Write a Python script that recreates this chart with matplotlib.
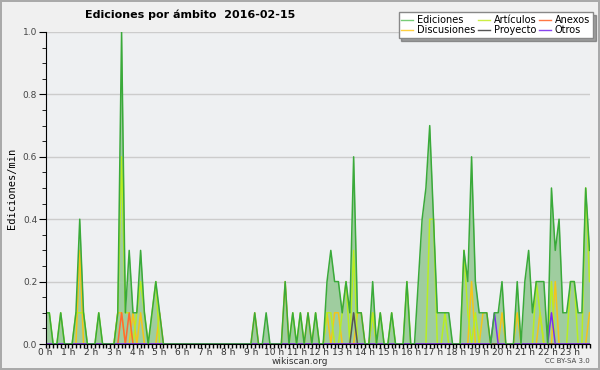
import numpy as np
import matplotlib
matplotlib.use("Agg")
import matplotlib.pyplot as plt
from matplotlib.ticker import MultipleLocator, FixedLocator

# edits per minute, one value every 10 minutes (144 per day), two hours per row
ediciones = [
    0.1, 0.1, 0, 0, 0.1, 0,   0, 0, 0.1, 0.4, 0.1, 0,
    0, 0, 0.1, 0, 0, 0,       0, 0.1, 1.0, 0.1, 0.3, 0.1,
    0.1, 0.3, 0.1, 0, 0.1, 0.2, 0.1, 0, 0, 0, 0, 0,
    0, 0, 0, 0, 0, 0,         0, 0, 0, 0, 0, 0,
    0, 0, 0, 0, 0, 0,         0, 0.1, 0, 0, 0.1, 0,
    0, 0, 0, 0.2, 0, 0.1,     0, 0.1, 0, 0.1, 0, 0.1,
    0, 0, 0.2, 0.3, 0.2, 0.2, 0.1, 0.2, 0.1, 0.6, 0.1, 0.1,
    0, 0, 0.2, 0, 0.1, 0,     0, 0.1, 0, 0, 0, 0.2,
    0, 0, 0.2, 0.4, 0.5, 0.7, 0.4, 0.1, 0.1, 0.1, 0.1, 0,
    0, 0, 0.3, 0.2, 0.6, 0.2, 0.1, 0.1, 0.1, 0, 0.1, 0.1,
    0.2, 0, 0, 0, 0.2, 0,     0.2, 0.3, 0.1, 0.2, 0.2, 0.2,
    0, 0.5, 0.3, 0.4, 0.1, 0.1, 0.2, 0.2, 0.1, 0.1, 0.5, 0.3,
]
articulos = [
    0.1, 0.1, 0, 0, 0.1, 0,   0, 0, 0.1, 0.1, 0.1, 0,
    0, 0, 0.1, 0, 0, 0,       0, 0.1, 0.6, 0.1, 0.1, 0,
    0.1, 0.2, 0.1, 0, 0.1, 0.2, 0, 0, 0, 0, 0, 0,
    0, 0, 0, 0, 0, 0,         0, 0, 0, 0, 0, 0,
    0, 0, 0, 0, 0, 0,         0, 0, 0, 0, 0, 0,
    0, 0, 0, 0, 0, 0.1,       0, 0.1, 0, 0, 0, 0.1,
    0, 0, 0.1, 0.1, 0, 0,     0.1, 0.2, 0, 0.3, 0, 0,
    0, 0, 0.1, 0, 0.1, 0,     0, 0.1, 0, 0, 0, 0.2,
    0, 0, 0, 0, 0, 0.4,       0.4, 0, 0, 0.1, 0, 0,
    0, 0, 0.3, 0.1, 0, 0.1,   0, 0, 0, 0, 0, 0,
    0, 0, 0, 0, 0, 0,         0, 0, 0, 0.2, 0.1, 0,
    0, 0.2, 0, 0, 0, 0,       0.2, 0.2, 0, 0, 0.5, 0.2,
]
discusiones = [
    0, 0, 0, 0, 0, 0,         0, 0, 0, 0.3, 0, 0,
    0, 0, 0, 0, 0, 0,         0, 0.1, 0.1, 0, 0, 0.1,
    0, 0.1, 0, 0, 0, 0,       0.1, 0, 0, 0, 0, 0,
    0, 0, 0, 0, 0, 0,         0, 0, 0, 0, 0, 0,
    0, 0, 0, 0, 0, 0,         0, 0.1, 0, 0, 0, 0,
    0, 0, 0, 0.2, 0, 0,       0, 0, 0, 0.1, 0, 0,
    0, 0, 0.1, 0, 0.1, 0.1,   0, 0, 0, 0, 0.1, 0.1,
    0, 0, 0.1, 0, 0, 0,       0, 0, 0, 0, 0, 0,
    0, 0, 0, 0, 0, 0,         0, 0, 0, 0, 0, 0,
    0, 0, 0, 0, 0.2, 0,       0, 0.1, 0.1, 0, 0, 0,
    0.1, 0, 0, 0, 0.1, 0,     0, 0, 0, 0, 0.1, 0,
    0, 0, 0.2, 0, 0, 0,       0, 0, 0, 0, 0, 0.1,
]
# sparse categories: {10-minute slot: value}
anexos = {20: 0.1, 22: 0.1}
proyecto = {81: 0.1}
otros = {118: 0.1, 133: 0.1}

hours = np.arange(144) / 6.0


def full(sparse):
    s = np.zeros(144)
    for k, v in sparse.items():
        s[k] = v
    return s


fig = plt.figure(figsize=(6, 3.7), dpi=100, facecolor="#f0f0f0",
                 edgecolor="#aaaaaa", linewidth=1.5)
ax = fig.add_axes([45.5 / 600, 26 / 370, 544 / 600, 312 / 370])
ax.set_facecolor("#eef0f2")

ax.fill_between(hours, ediciones, 0, color="#9fcd9f", lw=0)
ax.plot(hours, discusiones, color="#f5c518", lw=1.1)
ax.plot(hours, articulos, color="#b8ee22", lw=1.1)
ax.plot(hours, full(anexos), color="#ff6a33", lw=1.1)
ax.plot(hours, full(proyecto), color="#555555", lw=1.1)
ax.plot(hours, full(otros), color="#7a2ef0", lw=1.1)
ax.plot(hours, ediciones, color="#3aaa3a", lw=1.1)

ax.set_xlim(0, 143 / 6)
ax.set_ylim(0, 1.0)
ax.xaxis.set_major_locator(FixedLocator(range(24)))
ax.set_xticklabels([f"{h} h" for h in range(24)], fontsize=6.5, color="#333333")
ax.xaxis.set_minor_locator(MultipleLocator(1 / 6))
ax.yaxis.set_major_locator(MultipleLocator(0.2))
ax.yaxis.set_minor_locator(MultipleLocator(0.05))
ax.set_yticklabels([f"{v:.1f}" for v in ax.get_yticks()], fontsize=6.5, color="#444444")
ax.tick_params(axis="x", which="both", length=3, width=1, pad=0)
ax.tick_params(axis="y", which="major", length=5, pad=1)
ax.tick_params(axis="y", which="minor", length=3)
ax.grid(axis="y", color="#cccccc", lw=1)
ax.set_axisbelow(True)
for side in ["top", "right"]:
    ax.spines[side].set_visible(False)

fig.text(12 / 600, 1 - 188 / 370, "Ediciones/min", fontsize=7.5, family="DejaVu Sans Mono",
         rotation=90, ha="center", va="center")
fig.text(300 / 600, 1 - 361 / 370, "wikiscan.org", fontsize=6.5, color="#333333",
         ha="center", va="center")
fig.text(85 / 600, 1 - 15 / 370, "Ediciones por ámbito  2016-02-15",
         fontsize=8, fontweight="bold", ha="left", va="center")
fig.text(590 / 600, 1 - 361 / 370, "CC BY-SA 3.0", fontsize=5, color="#444444",
         ha="right", va="center")

names = ["Ediciones", "Discusiones", "Artículos", "Proyecto", "Anexos", "Otros"]
colors = ["#77cc77", "#ffd040", "#ccee44", "#555555", "#ff7744", "#8844ee"]
handles = [plt.Line2D([], [], color=c, lw=1) for c in colors]
fig.legend(handles, names, ncol=3, loc="upper right", bbox_to_anchor=(593 / 600, 1 - 12 / 370),
           fontsize=7, frameon=True, fancybox=False, shadow=True, edgecolor="#888888",
           facecolor="white", framealpha=1, handlelength=1.2, handletextpad=0.4,
           columnspacing=0.3, labelspacing=0.05, borderpad=0.3, borderaxespad=0)

plt.savefig("out.png", dpi=100)
